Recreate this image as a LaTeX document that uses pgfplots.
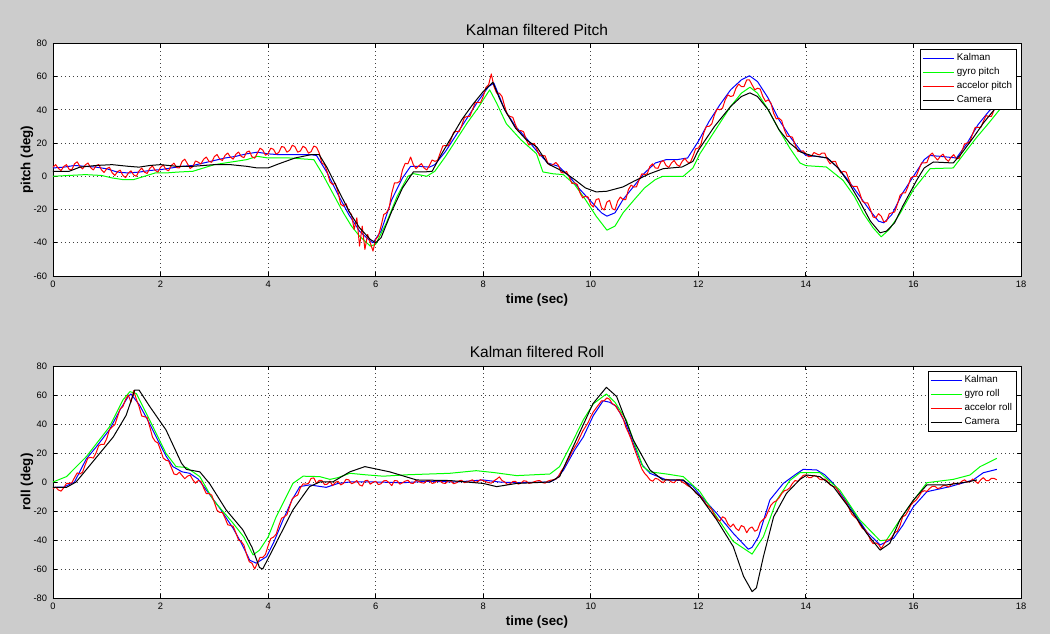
\documentclass[border=0pt]{standalone}
\usepackage{fontspec}
\setmainfont{Liberation Sans}
\usepackage{pgfplots}
\pgfplotsset{compat=1.18}
\definecolor{bg}{RGB}{204,204,204}
\definecolor{mblue}{RGB}{0,0,255}
\definecolor{mgreen}{RGB}{0,255,0}
\definecolor{mred}{RGB}{255,0,0}
\pgfplotsset{
  matlab/.style={
    scale only axis, width=580.8pt,
    xmin=0, xmax=18, xtick={0,2,...,18},
    grid=major, grid style={dotted, black!75, line width=0.45pt},
    axis background/.style={fill=white},
    axis line style={black, line width=0.5pt},
    tick align=inside, major tick length=2.6pt,
    tick style={black, line width=0.5pt},
    /pgf/number format/assume math mode=true,
    tick label style={font=\fontsize{5.6}{6}\selectfont},
    xticklabel style={yshift=0.6pt},
    every axis plot/.append style={line width=0.6pt, line join=round},
    title style={font=\fontsize{9.3}{10}\selectfont, anchor=center},
    xlabel style={font=\bfseries\fontsize{8}{9}\selectfont, at={(axis description cs:0.5,-0.103)}, anchor=center},
    ylabel style={font=\bfseries\fontsize{8}{9}\selectfont, at={(axis description cs:-0.027,0.5)}, anchor=center},
    legend style={font=\fontsize{5.9}{6}\selectfont, at={(1,1)}, anchor=north east,
      draw=black, line width=0.5pt, fill=white, inner sep=1.2pt, row sep=0pt,
      nodes={text height=4.2pt, text depth=1.2pt, inner sep=1.5pt}},
    legend cell align=left,
    legend image code/.code={\draw[##1] (0pt,0pt) -- (18.6pt,0pt);},
  }
}
\begin{document}
\begin{tikzpicture}
\fill[bg] (0pt,0pt) rectangle (630pt,380.4pt);
\useasboundingbox (0pt,0pt) rectangle (630pt,380.4pt);

% ---------------- Pitch ----------------
\begin{axis}[matlab, at={(31.8pt,214.8pt)}, anchor=south west, height=139.6pt,
  ymin=-60, ymax=80, ytick={-60,-40,...,80},
  title={Kalman filtered Pitch}, title style={at={(0.5,1.014)}},
  xlabel={time (sec)}, ylabel={pitch (deg)},
  legend style={xshift=-2.4pt, yshift=-3.4pt}]
\addplot[mblue] coordinates {
(0,5)(0.2,5.5)(0.4,6.5)(0.6,6)(0.8,5.5)(1.0,4.5)(1.2,2.5)(1.4,2)(1.6,2.5)(1.8,3.5)(2.0,4)(2.2,5)(2.4,6)(2.6,6.5)(2.8,8)(3.0,9.5)(3.2,11)(3.4,12)(3.6,13.5)(3.8,14.5)(4.0,13.5)(4.2,13)(4.4,13)(4.6,13)(4.8,13)(4.9,12.5)(5.1,2)(5.3,-11)(5.5,-23)(5.7,-33)(5.9,-39)(5.95,-40)(6.1,-33)(6.3,-14)(6.5,-1)(6.65,6)(6.8,6)(7.0,5.5)(7.1,7)(7.3,15)(7.5,25)(7.7,35)(7.9,45)(8.1,54)(8.2,56)(8.3,48)(8.4,40)(8.6,30)(8.8,23)(9.0,15)(9.2,8)(9.4,6)(9.6,0)(9.8,-8)(10.0,-15)(10.2,-22)(10.3,-24)(10.45,-22)(10.6,-14)(10.8,-6)(11.0,2)(11.2,8)(11.4,10)(11.6,10)(11.8,11)(12.0,21)(12.2,33)(12.4,43)(12.6,52)(12.8,58)(12.95,60.5)(13.1,57)(13.3,47)(13.5,34)(13.7,24)(13.9,15.5)(14.0,12.5)(14.2,12)(14.4,11)(14.6,5)(14.8,-3)(15.0,-12)(15.2,-21)(15.35,-27)(15.45,-28)(15.6,-23)(15.8,-10)(16.0,0)(16.2,10)(16.3,12.5)(16.5,12)(16.8,11)(17.0,20)(17.2,31)(17.4,39)(17.6,46)};
\addlegendentry{Kalman}
\addplot[mgreen] coordinates {
(0,0)(0.3,0.5)(0.6,1)(0.9,0.5)(1.1,-1)(1.3,-2)(1.5,-2)(1.7,0)(1.9,2)(2.1,2)(2.3,2.5)(2.6,3)(2.8,5)(3.0,7)(3.3,8.5)(3.6,10)(3.8,12)(4.0,11)(4.4,11)(4.85,10)(5.0,2)(5.2,-10)(5.4,-22)(5.55,-30)(5.7,-36)(5.9,-42)(6.0,-41)(6.2,-28)(6.4,-12)(6.6,0)(6.7,1.6)(6.95,0)(7.1,3)(7.3,12)(7.5,22)(7.7,32)(7.9,41)(8.12,52)(8.25,44)(8.43,31.6)(8.7,22)(8.99,13.6)(9.11,2.6)(9.3,1.5)(9.49,1)(9.7,-5)(9.9,-14)(10.1,-24)(10.3,-32.4)(10.45,-30)(10.6,-22)(10.8,-14.4)(11.0,-7)(11.2,-2)(11.34,0)(11.72,0)(11.9,5)(12.03,13.6)(12.3,27)(12.6,42)(12.8,50)(12.96,53.6)(13.1,50)(13.27,41.6)(13.5,28)(13.7,17)(13.89,8)(14.0,6.4)(14.38,5.6)(14.69,-2.4)(14.9,-12)(15.07,-22.4)(15.25,-31)(15.4,-36.4)(15.55,-32)(15.75,-22.4)(16.0,-8)(16.31,4.6)(16.74,5)(16.95,14)(17.18,23.6)(17.4,32)(17.6,40)};
\addlegendentry{gyro pitch}
\addplot[mred] coordinates {
(0.0,5.5)(0.05,7.0)(0.1,4.8)(0.15,3.4)(0.2,5.9)(0.25,7.0)(0.3,4.2)(0.35,3.9)(0.4,7.5)(0.45,8.7)(0.5,6.0)(0.55,4.4)(0.6,6.8)(0.65,8.0)(0.7,5.2)(0.75,3.8)(0.8,6.3)(0.85,7.1)(0.9,3.9)(0.95,2.3)(1.0,4.6)(1.05,5.4)(1.1,2.1)(1.15,0.5)(1.2,2.8)(1.25,3.7)(1.3,0.5)(1.35,-0.8)(1.4,1.9)(1.45,3.3)(1.5,0.8)(1.55,0.0)(1.6,3.2)(1.65,4.9)(1.7,2.5)(1.75,1.7)(1.8,4.8)(1.85,6.2)(1.9,3.6)(1.95,2.5)(2.0,5.4)(2.05,6.8)(2.1,4.1)(2.15,3.3)(2.2,6.5)(2.25,7.9)(2.3,5.2)(2.35,5.0)(2.4,8.9)(2.45,10.3)(2.5,7.6)(2.55,4.7)(2.6,5.8)(2.65,9.2)(2.7,8.5)(2.75,7.4)(2.8,10.2)(2.85,11.6)(2.9,9.0)(2.95,8.4)(3.0,11.8)(3.05,13.1)(3.1,10.4)(3.15,9.5)(3.2,12.6)(3.25,14.0)(3.3,11.5)(3.35,10.3)(3.4,13.2)(3.45,14.6)(3.5,12.0)(3.55,11.2)(3.6,14.5)(3.65,15.2)(3.7,11.8)(3.75,10.9)(3.8,13.9)(3.85,16.9)(3.9,15.8)(3.95,12.7)(4.0,13.6)(4.05,16.9)(4.1,16.2)(4.15,13.3)(4.2,14.4)(4.25,17.9)(4.3,17.5)(4.35,14.5)(4.4,15.6)(4.45,18.7)(4.5,17.8)(4.55,14.5)(4.6,15.2)(4.65,18.1)(4.7,17.0)(4.75,13.9)(4.8,14.8)(4.85,18.2)(4.9,17.5)(4.95,14.0)(5.0,8.0)(5.05,7.0)(5.1,2.5)(5.15,-3.3)(5.2,-5.0)(5.25,-4.2)(5.3,-9.5)(5.35,-16.8)(5.4,-18.0)(5.45,-16.5)(5.5,-21.0)(5.55,-23.0)(5.6,-32.0)(5.65,-25)(5.7,-42.0)(5.75,-30)(5.8,-44.0)(5.85,-35)(5.9,-40.0)(5.95,-45)(6.0,-38.0)(6.05,-36.0)(6.1,-30.0)(6.15,-23.0)(6.2,-22.0)(6.25,-19.0)(6.3,-10.0)(6.35,-4.0)(6.4,-4.0)(6.45,-3.0)(6.5,4.0)(6.55,7.8)(6.6,7.5)(6.65,11.6)(6.7,7.0)(6.75,4.6)(6.8,6.2)(6.85,7.6)(6.9,5.0)(6.95,3.8)(7.0,6.5)(7.05,9.8)(7.1,9.0)(7.15,9.5)(7.2,14.0)(7.25,18.3)(7.3,18.5)(7.35,18.3)(7.4,22.0)(7.45,26.5)(7.5,27.0)(7.55,26.8)(7.6,30.5)(7.65,35.3)(7.7,36.0)(7.75,36.0)(7.8,40.0)(7.85,44.3)(7.9,44.5)(7.95,44.3)(8.0,48.0)(8.05,53.5)(8.1,55.0)(8.15,61.6)(8.2,54.0)(8.25,50.0)(8.3,50.0)(8.35,48.0)(8.4,42.0)(8.45,37.0)(8.5,36.0)(8.55,35.5)(8.6,31.0)(8.65,27.3)(8.7,27.5)(8.75,26.8)(8.8,22.0)(8.85,18.8)(8.9,19.5)(8.95,19.8)(9.0,16.0)(9.05,12.3)(9.1,12.5)(9.15,12.3)(9.2,8.0)(9.25,6.5)(9.3,7.0)(9.35,8.3)(9.4,6.5)(9.45,2.3)(9.5,2.0)(9.55,2.8)(9.6,-0.5)(9.65,-4.3)(9.7,-4.0)(9.75,-5.0)(9.8,-10.0)(9.85,-13.0)(9.9,-12.0)(9.95,-12.5)(10.0,-17.0)(10.05,-18.5)(10.1,-14.0)(10.15,-13.5)(10.2,-19.0)(10.25,-20.3)(10.3,-15.5)(10.35,-14.5)(10.4,-19.5)(10.45,-20.3)(10.5,-15.0)(10.55,-12.5)(10.6,-14.0)(10.65,-14.0)(10.7,-8.0)(10.75,-5.3)(10.8,-6.5)(10.85,-6.3)(10.9,-2.0)(10.95,1.5)(11.0,1.0)(11.05,1.5)(11.1,6.0)(11.15,7.5)(11.2,5.0)(11.25,4.8)(11.3,8.5)(11.35,9.5)(11.4,6.5)(11.45,5.3)(11.5,8.0)(11.55,9.5)(11.6,7.0)(11.65,6.0)(11.7,9.0)(11.75,10.8)(11.8,8.5)(11.85,8.3)(11.9,12.0)(11.95,16.5)(12.0,17.0)(12.05,19.5)(12.1,26.0)(12.15,30.0)(12.2,30.0)(12.25,31.5)(12.3,37.0)(12.35,40.5)(12.4,40.0)(12.45,41.0)(12.5,46.0)(12.55,49.0)(12.6,48.0)(12.65,48.5)(12.7,53.0)(12.75,55.5)(12.8,54.0)(12.85,54.0)(12.9,58.0)(12.95,58.0)(13.0,55.0)(13.05,52.0)(13.1,53.0)(13.15,52.5)(13.2,48.0)(13.25,45.0)(13.3,46.0)(13.35,44.0)(13.4,38.0)(13.45,34.5)(13.5,35.0)(13.55,33.5)(13.6,28.0)(13.65,24.0)(13.7,24.0)(13.75,23.5)(13.8,19.0)(13.85,15.0)(13.9,15.0)(13.95,15.3)(14.0,13.5)(14.05,11.8)(14.1,12.0)(14.15,14.3)(14.2,13.5)(14.25,12.8)(14.3,14.0)(14.35,14.0)(14.4,10.0)(14.45,7.5)(14.5,9.0)(14.55,9.0)(14.6,5.0)(14.65,2.0)(14.7,3.0)(14.75,2.5)(14.8,-2.0)(14.85,-6.0)(14.9,-6.0)(14.95,-6.0)(15.0,-10.0)(15.05,-15.0)(15.1,-16.0)(15.15,-16.0)(15.2,-20.0)(15.25,-24.5)(15.3,-25.0)(15.35,-22.5)(15.4,-24.0)(15.45,-27.5)(15.5,-27.0)(15.55,-22.5)(15.6,-22.0)(15.65,-21.5)(15.7,-17.0)(15.75,-11.5)(15.8,-10.0)(15.85,-10.0)(15.9,-6.0)(15.95,-1.0)(16.0,0.0)(16.05,0.0)(16.1,4.0)(16.15,8.0)(16.2,8.0)(16.25,8.3)(16.3,12.5)(16.35,14.0)(16.4,11.5)(16.45,9.8)(16.5,12.0)(16.55,13.3)(16.6,10.5)(16.65,9.0)(16.7,11.5)(16.75,13.0)(16.8,10.5)(16.85,10.8)(16.9,15.0)(16.95,19.5)(17.0,20.0)(17.05,20.8)(17.1,25.5)(17.15,29.5)(17.2,29.5)(17.25,29.3)(17.3,33.0)(17.35,36.5)(17.4,36.0)(17.45,36.0)(17.5,40.0)(17.55,43.0)(17.6,44.0)};
\addlegendentry{accelor pitch}
\addplot[black] coordinates {
(0,3)(0.3,3)(0.5,5.5)(0.8,6.5)(1.1,7)(1.4,6)(1.6,5.5)(1.8,6.5)(2.0,7)(2.3,6)(2.6,6)(3.0,7)(3.3,7)(3.6,6)(3.8,5)(4.0,5)(4.2,7.5)(4.5,11)(4.8,13)(4.95,13)(5.1,5)(5.3,-8)(5.52,-22)(5.7,-31)(5.9,-38)(6.0,-40)(6.1,-37)(6.3,-21)(6.5,-7)(6.7,2.6)(6.9,2.6)(7.05,3)(7.2,12)(7.4,23)(7.6,34)(7.8,43)(8.0,51)(8.18,56.6)(8.3,47)(8.4,40)(8.6,29)(8.8,22)(9.0,17.5)(9.2,7.6)(9.5,2.6)(9.7,-2)(9.9,-7)(10.1,-9.4)(10.3,-9)(10.6,-6.4)(10.8,-3)(11.1,1.6)(11.35,4.6)(11.7,5.6)(11.9,9)(12.0,15.6)(12.3,30)(12.6,42)(12.8,48)(12.96,50.2)(13.1,48)(13.3,40)(13.5,28)(13.7,20)(13.9,14.6)(14.1,12.5)(14.4,11)(14.6,5)(14.8,-4)(15.0,-15)(15.2,-27)(15.38,-34)(15.5,-33)(15.65,-28)(15.8,-18)(16.06,-2.4)(16.2,5)(16.37,8.6)(16.74,8)(16.9,14)(17.12,23.6)(17.3,32)(17.5,40)};
\addlegendentry{Camera}
\end{axis}

% ---------------- Roll ----------------
\begin{axis}[matlab, at={(31.8pt,21.6pt)}, anchor=south west, height=139.2pt,
  ymin=-80, ymax=80, ytick={-80,-60,...,80},
  title={Kalman filtered Roll}, title style={at={(0.5,1.017)}},
  xlabel={time (sec)}, ylabel={roll (deg)},
  legend style={xshift=-2.4pt, yshift=-3pt}]
\addplot[mblue] coordinates {
(0,-3.7)(0.2,-3.5)(0.4,0)(0.62,16)(0.8,24)(1.05,36)(1.25,50)(1.4,59)(1.45,60.7)(1.61,53)(1.8,40)(1.92,31)(2.1,18)(2.23,10.6)(2.4,7)(2.54,6)(2.7,2)(2.85,-5.5)(3.1,-18)(3.35,-32)(3.5,-42)(3.66,-54)(3.78,-56)(3.97,-51.5)(4.1,-42)(4.28,-26)(4.45,-12)(4.59,-3.2)(4.77,-2)(5.08,-3.7)(5.3,-1)(5.52,0)(6.0,0)(6.5,-0.5)(7.0,0.5)(7.5,0)(8.0,1.4)(8.3,0)(8.6,-0.5)(9.24,0)(9.35,2)(9.49,8)(9.7,22)(9.86,31)(10.05,46)(10.23,56)(10.35,55)(10.48,52)(10.65,40)(10.79,26.7)(10.95,12)(11.1,6)(11.41,1.4)(11.72,1)(11.9,-3)(12.03,-9)(12.34,-21.6)(12.65,-35.4)(12.93,-46.4)(13.0,-45)(13.12,-37.7)(13.33,-12.4)(13.58,-1)(13.8,5)(13.95,8.7)(14.2,8.3)(14.35,5)(14.51,-1)(14.82,-17)(15.13,-34.3)(15.38,-43.4)(15.63,-38.9)(15.8,-30)(16.0,-17)(16.25,-6.7)(16.68,-3.2)(17.11,1.4)(17.3,6.4)(17.55,8.7)};
\addlegendentry{Kalman}
\addplot[mgreen] coordinates {
(0,0)(0.25,3.7)(0.62,17.5)(1.05,38)(1.3,56.6)(1.43,62.3)(1.55,61)(1.7,50)(1.86,38)(2.1,19.8)(2.29,10.6)(2.48,10)(2.6,7)(2.73,3.7)(2.98,-12.4)(3.35,-28.5)(3.55,-38)(3.72,-50.3)(3.84,-47)(4.0,-38)(4.15,-24)(4.46,-1)(4.65,4)(4.96,3.7)(5.15,1.8)(5.3,3)(5.52,6)(5.8,5)(6.14,4)(6.6,5)(7.38,6)(7.87,7.8)(8.2,6.5)(8.62,4.4)(9.24,5.5)(9.42,10.6)(9.65,27)(9.86,42.8)(10.05,54)(10.29,60.7)(10.45,55)(10.66,42.8)(10.8,28)(10.97,10.6)(11.1,7)(11.41,5.5)(11.72,3.7)(12.03,-6.7)(12.34,-24)(12.65,-41)(13.0,-49.7)(13.21,-37.7)(13.46,-12.4)(13.7,1)(13.89,6.4)(14.26,6.4)(14.63,-5.5)(15.0,-26)(15.38,-40.5)(15.5,-40)(15.87,-19.3)(16.25,-0.5)(16.74,1.8)(17.05,4.8)(17.24,10.6)(17.55,16.3)};
\addlegendentry{gyro roll}
\addplot[mred] coordinates {
(0.0,-4.5)(0.05,-3.5)(0.1,-5.5)(0.15,-6.3)(0.2,-4.0)(0.25,-1.0)(0.3,-1.0)(0.35,-0.5)(0.4,3.0)(0.45,6.3)(0.5,5.5)(0.55,6.8)(0.6,12.0)(0.65,16.5)(0.7,17.0)(0.75,16.5)(0.8,20.0)(0.85,25.0)(0.9,26.0)(0.95,26.0)(1.0,30.0)(1.05,36.0)(1.1,38.0)(1.15,39.5)(1.2,45.0)(1.25,50.5)(1.3,52.0)(1.35,57)(1.4,60.0)(1.45,55)(1.5,63.0)(1.55,57)(1.6,52.0)(1.65,45.5)(1.7,45.0)(1.75,44.5)(1.8,38.0)(1.85,31.0)(1.9,28.0)(1.95,27.0)(2.0,22.0)(2.05,16.5)(2.1,15.0)(2.15,14.5)(2.2,10.0)(2.25,5.5)(2.3,5.0)(2.35,6.8)(2.4,4.5)(2.45,2.3)(2.5,4.0)(2.55,4.8)(2.6,1.5)(2.65,-0.8)(2.7,1.0)(2.75,0.5)(2.8,-4.0)(2.85,-8.0)(2.9,-8.0)(2.95,-9.0)(3.0,-14.0)(3.05,-19.5)(3.1,-21.0)(3.15,-21.0)(3.2,-25.0)(3.25,-29.5)(3.3,-30.0)(3.35,-30.5)(3.4,-35.0)(3.45,-40.0)(3.5,-41.0)(3.55,-43.5)(3.6,-50.0)(3.65,-55.0)(3.7,-56.0)(3.75,-60)(3.8,-56.0)(3.85,-52.0)(3.9,-52.0)(3.95,-50.0)(4.0,-44.0)(4.05,-39.0)(4.1,-38.0)(4.15,-36.0)(4.2,-30.0)(4.25,-25.0)(4.3,-24.0)(4.35,-22.5)(4.4,-17.0)(4.45,-11.5)(4.5,-10.0)(4.55,-9.0)(4.6,-4.0)(4.65,-1.3)(4.7,-1.5)(4.75,-1.0)(4.8,2.5)(4.85,2.8)(4.9,-1.0)(4.95,1.2)(5.0,1.0)(5.05,-1.8)(5.1,-1.5)(5.15,0.6)(5.2,-2.5)(5.25,-0.3)(5.3,0.5)(5.35,-2.0)(5.4,-1.0)(5.45,1.8)(5.5,1.5)(5.55,-1.2)(5.6,-0.5)(5.65,1.0)(5.7,-2.0)(5.75,-2.8)(5.8,0.8)(5.85,1.2)(5.9,-1.5)(5.95,-0.2)(6.0,0.5)(6.05,-1.8)(6.1,-1.2)(6.15,0.8)(6.2,1.0)(6.25,-0.6)(6.3,-2.5)(6.35,1.0)(6.4,0.8)(6.45,-1.5)(6.5,-0.5)(6.55,0.6)(6.6,1.2)(6.65,-0.8)(6.7,-1.0)(6.75,1.2)(6.8,0.5)(6.85,-0.5)(6.9,-0.8)(6.95,0.9)(7.0,1.0)(7.05,-1.0)(7.1,-0.5)(7.15,1.0)(7.2,0.7)(7.25,-0.8)(7.3,-1.0)(7.35,1.0)(7.4,0.5)(7.45,-1.2)(7.5,-0.6)(7.55,0.8)(7.6,1.2)(7.65,-0.5)(7.7,0.0)(7.75,0.8)(7.8,1.5)(7.85,-0.3)(7.9,0.3)(7.95,1.6)(8.0,1.0)(8.05,0.2)(8.1,-0.5)(8.15,-0.8)(8.2,0.8)(8.25,2.0)(8.3,3.5)(8.35,1.0)(8.4,0.0)(8.45,-1.8)(8.5,-1.2)(8.55,0.3)(8.6,0.5)(8.65,-1.5)(8.7,-0.8)(8.75,0.8)(8.8,0.6)(8.85,-1.0)(8.9,-0.5)(8.95,0.2)(9.0,0.8)(9.05,1.0)(9.1,-0.4)(9.15,-0.8)(9.2,0.6)(9.25,1.2)(9.3,1.5)(9.35,2.0)(9.4,4.0)(9.45,7.5)(9.5,10.0)(9.55,13.5)(9.6,17.0)(9.65,21.0)(9.7,24.0)(9.75,27.0)(9.8,31.0)(9.85,35.0)(9.9,38.0)(9.95,41.0)(10.0,45.0)(10.05,48.5)(10.1,51.0)(10.15,53.5)(10.2,56.0)(10.25,56.0)(10.3,58.0)(10.35,57.0)(10.4,54.0)(10.45,53.0)(10.5,50.0)(10.55,47.5)(10.6,44.0)(10.65,38.0)(10.7,34.0)(10.75,29.5)(10.8,24.0)(10.85,19.0)(10.9,14.0)(10.95,9.0)(11.0,6.0)(11.05,4.0)(11.1,1.5)(11.15,0.5)(11.2,2.5)(11.25,2.0)(11.3,0.5)(11.35,-0.5)(11.4,1.8)(11.45,1.5)(11.5,0.0)(11.55,-0.5)(11.6,1.5)(11.65,1.5)(11.7,0.0)(11.75,-1.0)(11.8,-2.5)(11.85,-3.5)(11.9,-5.0)(11.95,-7.5)(12.0,-9.0)(12.05,-10)(12.1,-13.0)(12.15,-15.5)(12.2,-17.0)(12.25,-19)(12.3,-23.0)(12.35,-25.5)(12.4,-27.0)(12.45,-24)(12.5,-25.0)(12.55,-29)(12.6,-31.0)(12.65,-29)(12.7,-32.0)(12.75,-33.5)(12.8,-30.0)(12.85,-31)(12.9,-35.0)(12.95,-32)(13.0,-31.0)(13.05,-34)(13.1,-33.0)(13.15,-28)(13.2,-26.0)(13.25,-24.5)(13.3,-20.0)(13.35,-16)(13.4,-14.0)(13.45,-13)(13.5,-11.0)(13.55,-8)(13.6,-6.0)(13.65,-5.5)(13.7,-4.0)(13.75,-1)(13.8,1.0)(13.85,0.5)(13.9,2.5)(13.95,4.5)(14.0,5.0)(14.05,3.0)(14.1,3.0)(14.15,4.5)(14.2,4.0)(14.25,2.0)(14.3,1.5)(14.35,2.0)(14.4,0.5)(14.45,-2.0)(14.5,-3.0)(14.55,-3.5)(14.6,-6.0)(14.65,-9.5)(14.7,-12.0)(14.75,-14)(14.8,-18.0)(14.85,-22)(14.9,-24.0)(14.95,-25.5)(15.0,-29.0)(15.05,-32)(15.1,-33.0)(15.15,-35.5)(15.2,-40.0)(15.25,-42.5)(15.3,-42.0)(15.35,-43)(15.4,-46.0)(15.45,-43)(15.5,-40.0)(15.55,-40)(15.6,-38.0)(15.65,-35)(15.7,-34.0)(15.75,-30)(15.8,-24.0)(15.85,-23)(15.9,-20.0)(15.95,-16)(16.0,-14.0)(16.05,-12.5)(16.1,-10.0)(16.15,-7)(16.2,-6.0)(16.25,-6.5)(16.3,-4.5)(16.35,-3)(16.4,-3.0)(16.45,-4.5)(16.5,-4.0)(16.55,-2.5)(16.6,-2.5)(16.65,-3.5)(16.7,-2.0)(16.75,-0.8)(16.8,-1.0)(16.85,-1.5)(16.9,0.5)(16.95,1.5)(17.0,0.0)(17.05,0.0)(17.1,2.0)(17.15,0.5)(17.2,-1.0)(17.25,1.5)(17.3,3.0)(17.35,1.0)(17.4,1.0)(17.45,2.5)(17.5,2.5)(17.55,1.5)};
\addlegendentry{accelor roll}
\addplot[black] coordinates {
(0,-3.7)(0.25,-3.7)(0.43,0)(0.87,19.8)(1.12,31)(1.36,46)(1.52,63.4)(1.6,63.4)(1.8,52)(2.1,36)(2.39,12.9)(2.48,8.7)(2.73,7)(2.91,-1)(3.22,-19.3)(3.53,-33)(3.7,-45)(3.84,-59)(3.9,-60)(4.15,-42)(4.46,-19.3)(4.77,-3.2)(4.96,0)(5.2,0)(5.52,7)(5.8,10.6)(6.26,7)(6.76,1.4)(7.38,1)(8.0,-1)(8.25,-3.2)(8.62,-1)(9.24,0)(9.42,3.7)(9.73,29)(10.04,54)(10.29,65.3)(10.48,59)(10.79,29)(11.1,8.3)(11.34,1.4)(11.72,1.4)(12.03,-10)(12.34,-26)(12.65,-44.6)(12.84,-65)(13.0,-75.6)(13.08,-73)(13.21,-51.5)(13.4,-24)(13.64,-7.8)(13.89,1.8)(14.02,4.8)(14.26,3.7)(14.51,-3.2)(14.88,-21.6)(15.13,-35.4)(15.38,-47)(15.56,-42.3)(15.75,-26)(16.0,-12.4)(16.25,-2)(16.62,-2)(17.0,0)(17.18,1.4)};
\addlegendentry{Camera}
\end{axis}
\end{tikzpicture}
\end{document}
